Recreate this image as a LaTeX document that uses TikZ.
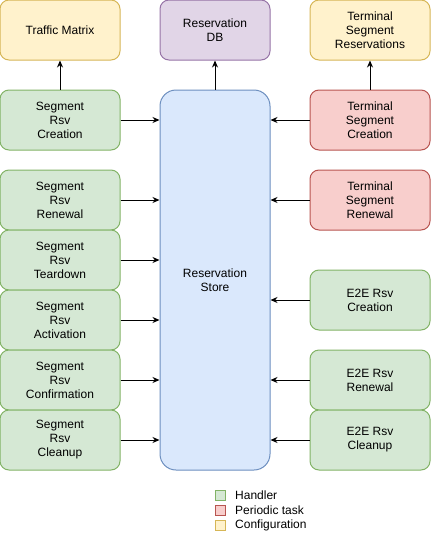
\documentclass[tikz,border=0pt]{standalone}
\usepackage{fontspec}
\setmainfont{Liberation Sans}
\usepackage{xcolor}
\usetikzlibrary{arrows.meta}

\definecolor{hfill}{HTML}{D5E8D4}
\definecolor{hline}{HTML}{82B366}
\definecolor{pfill}{HTML}{F8CECC}
\definecolor{pline}{HTML}{B85450}
\definecolor{cfill}{HTML}{FFF2CC}
\definecolor{cline}{HTML}{D6B656}
\definecolor{dbfill}{HTML}{E1D5E7}
\definecolor{dbline}{HTML}{9673A6}
\definecolor{sfill}{HTML}{DAE8FC}
\definecolor{sline}{HTML}{6C8EBF}

\tikzset{
    box/.style={draw, line width=1pt, rounded corners=9pt, minimum width=120pt,
        minimum height=60pt, align=center, inner sep=2pt,
        font=\fontsize{12}{14}\selectfont},
    handler/.style={box, fill=hfill, draw=hline},
    periodic/.style={box, fill=pfill, draw=pline},
    config/.style={box, fill=cfill, draw=cline},
    legbox/.style={draw, line width=1pt, minimum size=10pt, inner sep=0pt},
    leglabel/.style={anchor=west, inner sep=0pt, font=\fontsize{12}{14}\selectfont},
    arr/.style={-{Stealth[length=7pt,width=6pt]}, line width=1pt},
}

\begin{document}
\begin{tikzpicture}[x=1pt, y=-1pt]
                    \useasboundingbox (0,0) rectangle (431,536);

                    % left column
                    \node[config] (tm) at (60,30) {Traffic Matrix};
                    \node[handler] (sc) at (60,120) {Segment\\Rsv\\Creation};
                    \node[handler] (sr) at (60,200) {Segment\\Rsv\\Renewal};
                    \node[handler] (st) at (60,260) {Segment\\Rsv\\Teardown};
                    \node[handler] (sa) at (60,320) {Segment\\Rsv\\Activation};
                    \node[handler] (scf) at (60,380) {Segment\\Rsv\\Confirmation};
                    \node[handler] (scl) at (60,440) {Segment\\Rsv\\Cleanup};

                    % middle
                    \node[box, fill=dbfill, draw=dbline, minimum width=110pt] (db) at (215,30) {Reservation\\DB};
                    \node[box, fill=sfill, draw=sline, minimum width=110pt, minimum height=380pt,
                          rounded corners=16pt] (store) at (215,280) {Reservation\\Store};

                    % right column
                    \node[config] (tsr) at (370,30) {Terminal\\Segment\\Reservations};
                    \node[periodic] (tsc) at (370,120) {Terminal\\Segment\\Creation};
                    \node[periodic] (tsrn) at (370,200) {Terminal\\Segment\\Renewal};
                    \node[handler] (ec) at (370,300) {E2E Rsv\\Creation};
                    \node[handler] (er) at (370,380) {E2E Rsv\\Renewal};
                    \node[handler] (ecl) at (370,440) {E2E Rsv\\Cleanup};

                    \draw[arr] (sc) edge (tm);
                    \draw[arr] (store) edge (db);
                    \draw[arr] (tsc) edge (tsr);

                    \foreach \n in {sc,sr,st,sa,scf,scl}
                        \draw[arr] (\n.east) -- (\n.east -| store.west);
                    \foreach \n in {tsc,tsrn,ec,er,ecl}
                        \draw[arr] (\n.west) -- (\n.west -| store.east);

                    % legend
                    \node[legbox, fill=hfill, draw=hline] (lh) at (220,495) {};
                    \node[legbox, fill=pfill, draw=pline] (lp) at (220,510) {};
                    \node[legbox, fill=cfill, draw=cline] (lc) at (220,525) {};
                    \node[leglabel] at (235,495) {Handler};
                    \node[leglabel] at (235,510) {Periodic task};
                    \node[leglabel] at (235,525) {Configuration};
                \end{tikzpicture}
\end{document}
